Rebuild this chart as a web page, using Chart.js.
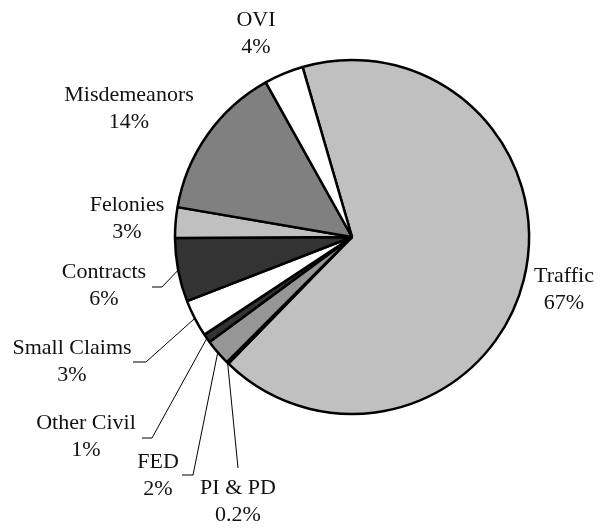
<!DOCTYPE html>
<html>
<head>
<meta charset="utf-8">
<script src="https://cdn.jsdelivr.net/npm/chart.js@4.4.1/dist/chart.umd.min.js"></script>
<style>
  html, body { margin: 0; padding: 0; background: #fff; }
  #wrap { width: 598px; height: 529px; }
</style>
</head>
<body>
<div id="wrap"><canvas id="pie" width="598" height="529"></canvas></div>
<script>
// case categories, clockwise from the top
const categories = ['Traffic', 'PI & PD', 'FED', 'Other Civil', 'Small Claims', 'Contracts', 'Felonies', 'Misdemeanors', 'OVI'];
// share of cases (%)
const shares = [66.8, 0.2, 2.4, 0.8, 3.4, 5.8, 2.8, 14.2, 3.6];
// printed percentage labels
const shareLabels = ['67%', '0.2%', '2%', '1%', '3%', '6%', '3%', '14%', '4%'];

const sliceColors = ['#c0c0c0', '#1c1c1c', '#969696', '#333333', '#ffffff', '#333333', '#c0c0c0', '#808080', '#ffffff'];

// label placement relative to pie centre: [dx, dy] of first text line,
// optional leader polyline (elbow points) drawn from the slice's rim
const labelLayout = [
    { pos: [212, 39] },
    { pos: [-114, 251], leader: [[-114, 231]] },
    { pos: [-194, 225], leader: [[-159, 238], [-170, 238]] },
    { pos: [-266, 186], leader: [[-200, 201], [-210, 201]] },
    { pos: [-280, 111], leader: [[-206, 125], [-219, 125]] },
    { pos: [-248, 35], leader: [[-190, 50], [-200, 50]] },
    { pos: [-225, -32] },
    { pos: [-223, -142] },
    { pos: [-96, -217] },
];

const pieLabels = {
    id: 'pieLabels',
    afterDraw(chart) {
        const ctx = chart.ctx;
        const arcs = chart.getDatasetMeta(0).data;
        ctx.save();
        arcs.forEach((arc, i) => {
            const lay = labelLayout[i];
            const cx = arc.x, cy = arc.y;
            if (lay.leader) {
                const mid = (arc.startAngle + arc.endAngle) / 2;
                const r = arc.outerRadius;
                ctx.beginPath();
                ctx.strokeStyle = '#000';
                ctx.lineWidth = 1;
                ctx.moveTo(cx + Math.cos(mid) * r, cy + Math.sin(mid) * r);
                lay.leader.forEach(p => ctx.lineTo(cx + p[0], cy + p[1]));
                ctx.stroke();
            }
            ctx.fillStyle = '#111';
            ctx.font = '22px "Liberation Serif", "Times New Roman", serif';
            ctx.textAlign = 'center';
            ctx.textBaseline = 'middle';
            ctx.fillText(categories[i], cx + lay.pos[0], cy + lay.pos[1]);
            ctx.fillText(shareLabels[i], cx + lay.pos[0], cy + lay.pos[1] + 27);
        });
        ctx.restore();
    }
};

new Chart(document.getElementById('pie'), {
    type: 'pie',
    data: {
        labels: categories,
        datasets: [{
            data: shares,
            backgroundColor: sliceColors,
            borderColor: '#000',
            borderWidth: 2.5,
        }]
    },
    options: {
        responsive: false,
        animation: false,
        rotation: -16.2,
        layout: { padding: { left: 173.75, top: 58.75, right: 67.75, bottom: 113.75 } },
        plugins: {
            legend: { display: false },
            tooltip: { enabled: false },
        }
    },
    plugins: [pieLabels]
});
</script>
</body>
</html>
